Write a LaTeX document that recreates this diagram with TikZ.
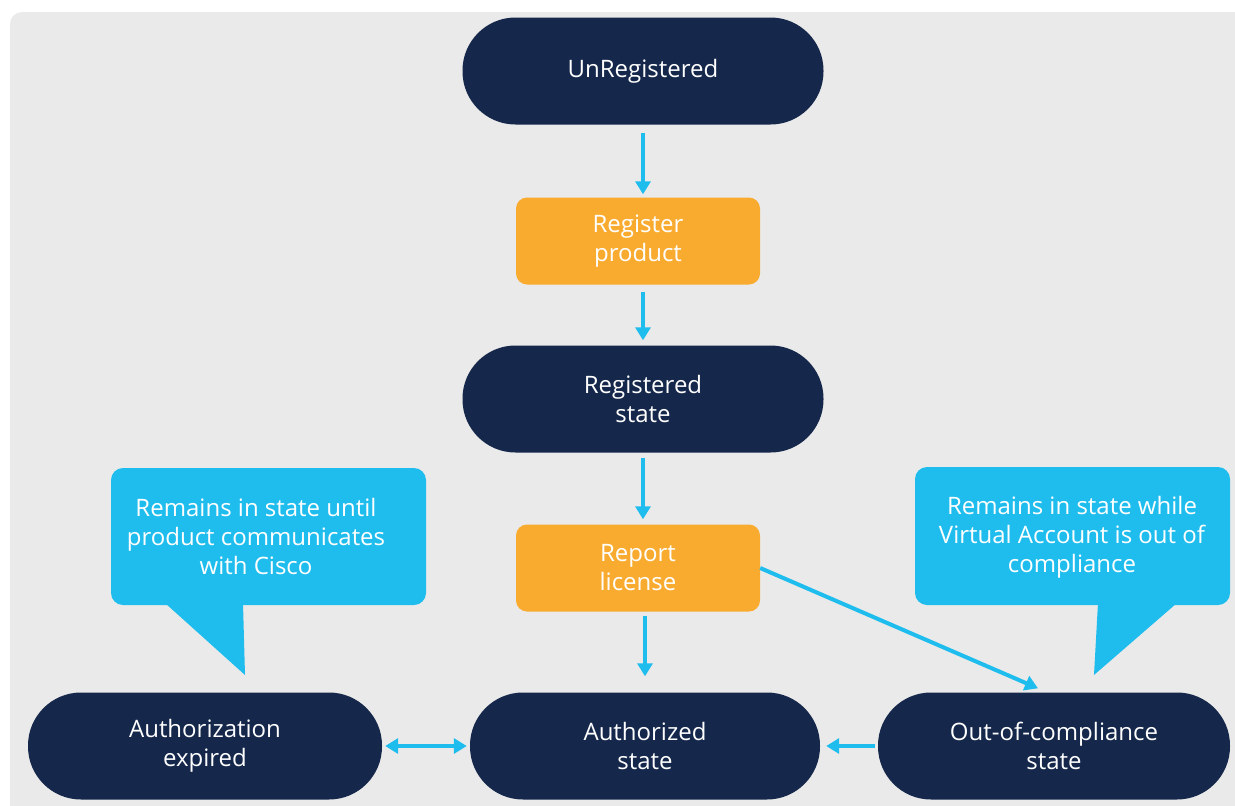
\documentclass[tikz,border=0pt]{standalone}
\usepackage{fontspec}
\setmainfont{Open Sans}
\usetikzlibrary{arrows.meta,calc}
\definecolor{navy}{HTML}{15284B}
\definecolor{amber}{HTML}{F9AB30}
\definecolor{sky}{HTML}{1FBDEE}
\definecolor{panel}{HTML}{EAEAEA}
\newcommand{\lbl}{\fontsize{24}{29}\selectfont}
\begin{document}
\begin{tikzpicture}[x=1pt,y=-1pt,
  state/.style={fill=navy, rounded corners=53pt, minimum height=107pt,
    text=white, align=center, font=\lbl, inner sep=0pt},
  action/.style={fill=amber, rounded corners=11pt, minimum width=244pt,
    minimum height=87pt, text=white, align=center, font=\lbl, inner sep=0pt},
  notetext/.style={text=white, align=center, font=\lbl, inner sep=0pt},
  flow/.style={draw=sky, line width=4pt, -{Triangle[length=13pt,width=15pt]}},
  flowboth/.style={draw=sky, line width=4pt,
    {Triangle[length=13pt,width=15pt]}-{Triangle[length=13pt,width=15pt]}}
]
\useasboundingbox (0,0) rectangle (1235,806);
% panel
\fill[panel, rounded corners=12pt] (10,12) rectangle (1260,830);

% speech balloons
\fill[sky, rounded corners=12pt] (111,468) rectangle (426,605);
\fill[sky] (165,603) -- (243,603) -- (245,675) -- cycle;
\fill[sky, rounded corners=12pt] (915,467) rectangle (1230,605);
\fill[sky] (1098,603) -- (1177,603) -- (1094,675) -- cycle;
\node[notetext] (n1) at (256,536) {Remains in state until\\product communicates\\with Cisco};
\node[notetext] (n2) at (1072,537) {Remains in state while\\Virtual Account is out of\\compliance};

% states and actions
\node[state, minimum width=361pt] (un) at (643,71) {UnRegistered};
\node[action] (reg) at (638,241) {Register\\product};
\node[state, minimum width=361pt] (rs) at (643,399) {Registered\\state};
\node[action] (rep) at (638,568) {Report\\license};
\node[state, minimum width=350pt] (auth) at (645,746) {Authorized\\state};
\node[state, minimum width=354pt] (exp) at (205,746) {Authorization\\expired};
\node[state, minimum width=352pt] (ooc) at (1054,746) {Out-of-compliance\\state};

% connectors
\draw[flow, shorten <=8pt, shorten >=3pt] (un.south) -- (un.south |- reg.north);
\draw[flow, shorten <=7pt, shorten >=5pt] (rs.north |- reg.south) -- (rs.north);
\draw[flow, shorten <=5pt, shorten >=5pt] (rs.south) -- (rs.south |- rep.north);
\draw[flow, shorten <=4pt, shorten >=16pt] (auth.north |- rep.south) -- (auth.north);
\coordinate (oocin) at ($(ooc.north)+(-16,-4)$);
\draw[flow] (rep.east) -- (oocin);
\draw[flowboth, shorten <=3pt, shorten >=3pt] (exp.east) -- (auth.west);
\draw[flow, shorten <=3pt, shorten >=6pt] (ooc.west) -- (auth.east);
\end{tikzpicture}
\end{document}
